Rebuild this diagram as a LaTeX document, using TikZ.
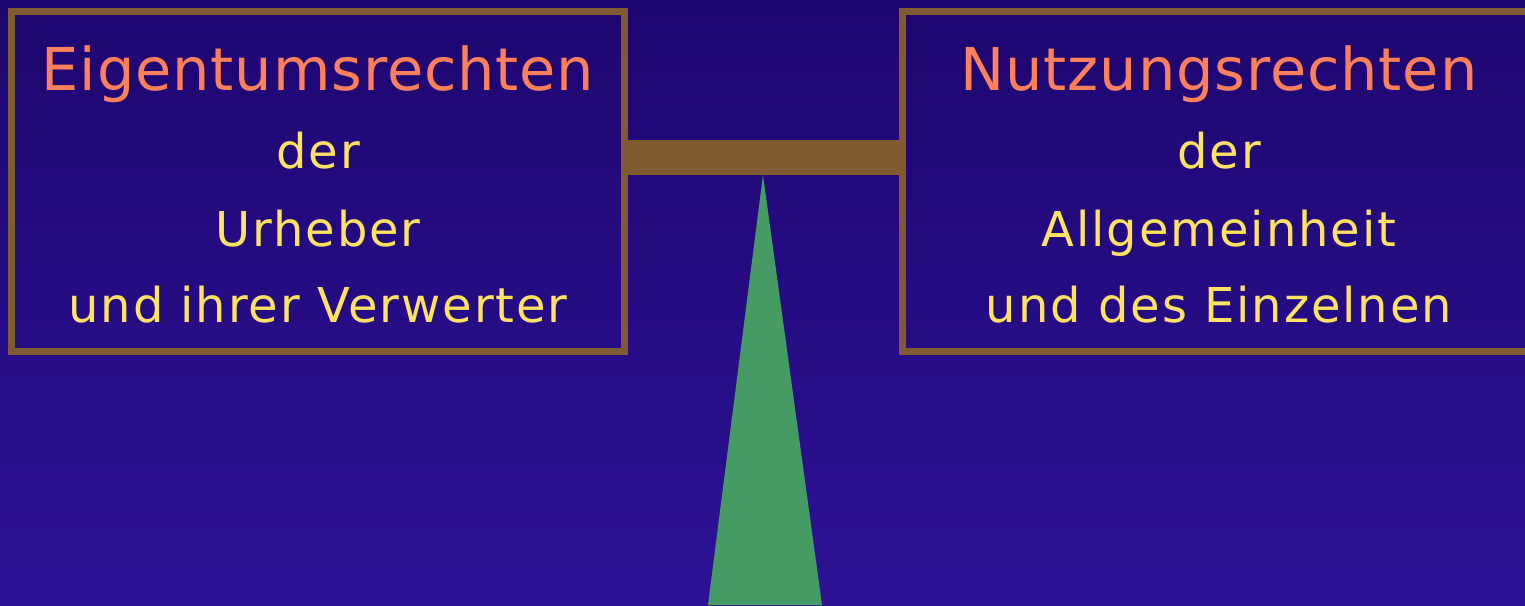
\documentclass[tikz,border=0pt]{standalone}
\usepackage{fontspec}
\setmainfont{DejaVu Sans}
\newfontfamily\ttlfont[LetterSpace=1.5]{DejaVu Sans}
\newfontfamily\txtfont[LetterSpace=4]{DejaVu Sans}
\definecolor{bgtop}{RGB}{30,6,112}
\definecolor{bgbot}{RGB}{46,18,150}
\definecolor{frame}{RGB}{128,90,48}
\definecolor{stand}{RGB}{70,155,100}
\definecolor{title}{RGB}{255,128,90}
\definecolor{body}{RGB}{255,225,100}
\tikzset{
  panel/.style={draw=frame, line width=7pt, rectangle, inner sep=0pt},
  ttl/.style={text=title, anchor=base, font=\ttlfont\fontsize{59}{59}\selectfont, inner sep=0pt},
  txt/.style={text=body, anchor=base, font=\txtfont\fontsize{48}{48}\selectfont, inner sep=0pt},
  beam/.style={draw=frame, line width=35pt},
}
\begin{document}
\begin{tikzpicture}[x=1pt,y=-1pt]
\useasboundingbox (0,0) rectangle (1525,605);
\shade[top color=bgtop, bottom color=bgbot] (0,0) rectangle (1525,605);
% stand
\fill[stand] (763,175) -- (708,605) -- (822,605) -- cycle;
% boxes
\node[panel, minimum width=612.5pt, minimum height=340pt] (L) at (318,351.5-170) {};
\node[panel, minimum width=634pt, minimum height=340pt] (R) at (1219,351.5-170) {};
% beam
\coordinate (bl) at (L.east |- 0,157.5);
\coordinate (br) at (R.west |- 0,157.5);
\draw[beam] (bl) -- (br);
% texts left
\node[ttl] (l1) at (318,90) {Eigentumsrechten};
\node[txt] (l2) at (318,168) {der};
\node[txt] (l3) at (318,246) {Urheber};
\node[txt] (l4) at (318,322) {und ihrer Verwerter};
% texts right
\node[ttl] (r1) at (1219,90) {Nutzungsrechten};
\node[txt] (r2) at (1219,168) {der};
\node[txt] (r3) at (1219,246) {Allgemeinheit};
\node[txt] (r4) at (1219,322) {und des Einzelnen};
\end{tikzpicture}
\end{document}
